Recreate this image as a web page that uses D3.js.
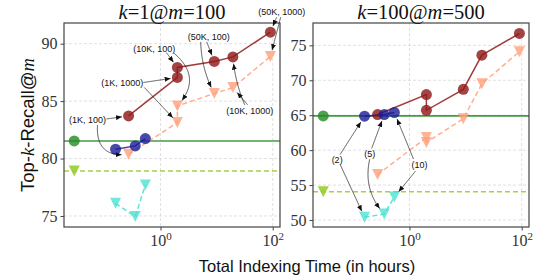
<!DOCTYPE html>
<html><head><meta charset="utf-8">
<script src="https://cdn.jsdelivr.net/npm/d3@7"></script>
<style>body{margin:0;background:#fff}</style>
</head><body><svg id="c" width="548" height="280"></svg>
<script>
// ---------------- DATA ----------------
const configLabels = ["(1K, 100)", "(1K, 1000)", "(10K, 100)", "(50K, 100)", "(10K, 1000)", "(50K, 1000)"];
const configHours  = [0.27, 2.0, 2.0, 9.1, 19.5, 91];
const probeLabels  = ["(2)", "(5)", "(10)"];
const probeHours   = [0.158, 0.355, 0.537];
const baselineHours = 0.029;

const leftOurFull    = [83.71, 87.06, 87.93, 88.45, 88.85, 91.0];
const leftOurFast    = [80.37, 83.13, 84.58, 85.66, 86.18, 88.88];
const leftProbeFull  = [80.81, 81.1, 81.74];
const leftProbeFast  = [76.1, 74.95, 77.7];
const leftBaseFull   = 81.53;
const leftBaseFast   = 78.92;

const rightOurFull   = [65.1, 67.96, 65.7, 68.7, 73.6, 76.7];
const rightOurFast   = [56.5, 61.8, 61.1, 64.5, 69.5, 74.1];
const rightProbeFull = [64.86, 65.1, 65.39];
const rightProbeFast = [50.4, 50.86, 53.3];
const rightBaseFull  = 64.9;
const rightBaseFast  = 54.05;

const xTickValues    = [1, 100];
const leftYTicks     = [75, 80, 85, 90];
const rightYTicks    = [50, 55, 60, 65, 70, 75];

// annotation label anchors (hours, value)
const leftLabelAnchors  = [[0.050, 83.36], [0.209, 86.62], [0.776, 89.58], [7.24, 90.59], [38.9, 84.15], [144.5, 92.74]];
const rightLabelAnchors = [[0.0513, 58.67], [0.195, 59.53], [1.51, 57.86]];

// ---------------- STYLE ----------------
const C = {
  red: "#8f1a1a", salmon: "#ffa07a", blue: "#1c1c96", cyan: "#40e0d0",
  green: "#228b22", ygreen: "#9acd32"
};
const serif = "'Liberation Serif', 'DejaVu Serif', serif";
const sans = "'Liberation Sans', 'DejaVu Sans', sans-serif";

const svg = d3.select("#c");
const defs = svg.append("defs");
defs.append("marker").attr("id", "ah").attr("viewBox", "0 0 6 5")
  .attr("refX", 6).attr("refY", 2.5).attr("markerWidth", 6).attr("markerHeight", 5)
  .attr("markerUnits", "userSpaceOnUse").attr("orient", "auto")
  .append("path").attr("d", "M0,0L6,2.5L0,5Z").attr("fill", "#111");

const panels = [
  { x0: 64, x1: 280, y0: 23, y1: 227, yDomain: [74.04, 91.8], yTicks: leftYTicks,
    title: ["k", "=1@", "m", "=100"],
    ourFull: leftOurFull, ourFast: leftOurFast, probeFull: leftProbeFull, probeFast: leftProbeFast,
    baseFull: leftBaseFull, baseFast: leftBaseFast,
    labels: configLabels, anchors: leftLabelAnchors,
    arrows: [
      [0, "ourFull", 0, [19, -1], 0],
      [0, "ourFast", 0, [10, 5], 0.6],
      [1, "ourFull", 1, [21, 0], 0],
      [1, "ourFast", 1, [22, 5], 0],
      [2, "ourFull", 2, [12, 4], 0],
      [2, "ourFast", 2, [20, 5], -0.52],
      [3, "ourFull", 3, [-2, 5], 0],
      [3, "ourFast", 3, [-8, 5], 0.12],
      [4, "ourFull", 4, [-5, -6], -0.08],
      [4, "ourFast", 4, [-2, -6], 0],
      [5, "ourFull", 5, [-5, 5], 0],
      [5, "ourFast", 5, [-1, 5], 0]
    ]},
  { x0: 313, x1: 529, y0: 23, y1: 227, yDomain: [49.0, 78.2], yTicks: rightYTicks,
    title: ["k", "=100@", "m", "=500"],
    ourFull: rightOurFull, ourFast: rightOurFast, probeFull: rightProbeFull, probeFast: rightProbeFast,
    baseFull: rightBaseFull, baseFast: rightBaseFast,
    labels: probeLabels, anchors: rightLabelAnchors,
    arrows: [
      [0, "probeFull", 0, [3, -5], 0],
      [0, "probeFast", 0, [3, 5], 0],
      [1, "probeFull", 1, [2, -5], 0],
      [1, "probeFast", 1, [0, 6], 0.26],
      [2, "probeFull", 2, [-6, -6], 0],
      [2, "probeFast", 2, [-4, 6], 0]
    ]}
];

function triPath(s) { const h = s / 2; return `M${-h},${-h}L${h},${-h}L0,${h}Z`; }

panels.forEach(p => {
  const x = d3.scaleLog().domain([10 ** -1.72, 10 ** 2.13]).range([p.x0, p.x1]);
  const y = d3.scaleLinear().domain(p.yDomain).range([p.y1, p.y0]);
  const g = svg.append("g");

  // grid
  g.selectAll(".gx").data(xTickValues).join("line")
    .attr("x1", d => x(d)).attr("x2", d => x(d)).attr("y1", p.y0).attr("y2", p.y1)
    .attr("stroke", "#d9d9d9").attr("stroke-width", 0.8).attr("stroke-dasharray", "3,2");
  g.selectAll(".gy").data(p.yTicks).join("line")
    .attr("x1", p.x0).attr("x2", p.x1).attr("y1", d => y(d)).attr("y2", d => y(d))
    .attr("stroke", "#d9d9d9").attr("stroke-width", 0.8).attr("stroke-dasharray", "3,2");

  // axes
  const ax = g.append("g").attr("transform", `translate(0,${p.y1})`)
    .call(d3.axisBottom(x).tickValues(xTickValues).tickSize(3.5).tickFormat(""));
  ax.select(".domain").remove();
  ax.selectAll("line").attr("stroke", "#444");
  ax.selectAll(".tick").append("text")
    .attr("y", 19).attr("fill", "#333").attr("text-anchor", "middle")
    .attr("font-family", serif).attr("font-size", 16)
    .each(function (d) {
      const t = d3.select(this);
      t.append("tspan").text("10");
      t.append("tspan").attr("dy", -6.5).attr("font-size", 11).text(Math.round(Math.log10(d)));
    });
  const ay = g.append("g").attr("transform", `translate(${p.x0},0)`)
    .call(d3.axisLeft(y).tickValues(p.yTicks).tickSize(3.5).tickPadding(3));
  ay.select(".domain").remove();
  ay.selectAll("line").attr("stroke", "#444");
  ay.selectAll("text").attr("font-family", serif).attr("font-size", 16).attr("fill", "#333");

  // baselines
  g.append("line").attr("x1", p.x0).attr("x2", p.x1).attr("y1", y(p.baseFull)).attr("y2", y(p.baseFull))
    .attr("stroke", C.green).attr("stroke-opacity", 0.85).attr("stroke-width", 1.6);
  g.append("line").attr("x1", p.x0).attr("x2", p.x1).attr("y1", y(p.baseFast)).attr("y2", y(p.baseFast))
    .attr("stroke", C.ygreen).attr("stroke-opacity", 0.9).attr("stroke-width", 1.5).attr("stroke-dasharray", "5,3");

  const line = d3.line().x(d => x(d[0])).y(d => y(d[1]));
  const series = [
    { xs: configHours, ys: p.ourFull, color: C.red, dash: null, mark: "o", op: 0.82 },
    { xs: configHours, ys: p.ourFast, color: C.salmon, dash: "5,3", mark: "v", op: 0.8 },
    { xs: probeHours, ys: p.probeFull, color: C.blue, dash: null, mark: "o", op: 0.8 },
    { xs: probeHours, ys: p.probeFast, color: C.cyan, dash: "5,3", mark: "v", op: 0.75 }
  ];
  series.forEach(s => {
    const pts = s.xs.map((v, i) => [v, s.ys[i]]);
    g.append("path").attr("d", line(pts)).attr("fill", "none")
      .attr("stroke", s.color).attr("stroke-opacity", 0.85).attr("stroke-width", 1.5)
      .attr("stroke-dasharray", s.dash);
    pts.forEach(pt => {
      if (s.mark === "o") {
        g.append("circle").attr("cx", x(pt[0])).attr("cy", y(pt[1])).attr("r", 5.5)
          .attr("fill", s.color).attr("fill-opacity", s.op);
      } else {
        g.append("path").attr("d", triPath(11))
          .attr("transform", `translate(${x(pt[0])},${y(pt[1])})`)
          .attr("fill", s.color).attr("fill-opacity", s.op);
      }
    });
  });
  // baseline markers
  g.append("circle").attr("cx", x(baselineHours)).attr("cy", y(p.baseFull)).attr("r", 5.5)
    .attr("fill", C.green).attr("fill-opacity", 0.8);
  g.append("path").attr("d", triPath(11))
    .attr("transform", `translate(${x(baselineHours)},${y(p.baseFast)})`)
    .attr("fill", C.ygreen).attr("fill-opacity", 0.9);

  // frame
  g.append("rect").attr("x", p.x0).attr("y", p.y0).attr("width", p.x1 - p.x0).attr("height", p.y1 - p.y0)
    .attr("fill", "none").attr("stroke", "#444").attr("stroke-width", 1.2);

  // annotations
  p.labels.forEach((lab, i) => {
    g.append("text").attr("x", x(p.anchors[i][0])).attr("y", y(p.anchors[i][1]) + 3.2)
      .attr("text-anchor", "middle").attr("font-family", sans).attr("font-size", 9)
      .attr("fill", "#111").text(lab);
  });
  p.arrows.forEach(a => {
    const [li, sname, pi, off, rad] = a;
    const xs = sname.startsWith("our") ? configHours : probeHours;
    const sx = x(p.anchors[li][0]) + off[0], sy = y(p.anchors[li][1]) + off[1];
    const tx = x(xs[pi]), ty = y(p[sname][pi]);
    const dx = tx - sx, dy = ty - sy;
    const cx = (sx + tx) / 2 - rad * dy, cy = (sy + ty) / 2 + rad * dx;
    const pts = [];
    for (let k = 0; k <= 80; k++) {
      const t = k / 80;
      const px = (1 - t) * (1 - t) * sx + 2 * (1 - t) * t * cx + t * t * tx;
      const py = (1 - t) * (1 - t) * sy + 2 * (1 - t) * t * cy + t * t * ty;
      if (Math.hypot(px - tx, py - ty) >= 6.5) pts.push([px, py]);
    }
    g.append("path").attr("d", d3.line()(pts)).attr("fill", "none")
      .attr("stroke", "#111").attr("stroke-width", 0.7).attr("marker-end", "url(#ah)");
  });

  // title
  const tt = svg.append("text").attr("x", (p.x0 + p.x1) / 2).attr("y", 19)
    .attr("text-anchor", "middle").attr("font-family", serif).attr("font-size", 20.5).attr("fill", "#111");
  p.title.forEach((s, i) => tt.append("tspan").attr("font-style", i % 2 === 0 ? "italic" : "normal").text(s));
});

// axis titles
svg.append("text").attr("x", 307).attr("y", 272).attr("text-anchor", "middle")
  .attr("font-family", sans).attr("font-size", 16.5).attr("fill", "#111")
  .text("Total Indexing Time (in hours)");
const yl = svg.append("text").attr("transform", "translate(34,125) rotate(-90)")
  .attr("text-anchor", "middle").attr("font-family", sans).attr("font-size", 18.5).attr("fill", "#111");
yl.append("tspan").text("Top-");
yl.append("tspan").attr("font-family", serif).attr("font-style", "italic").text("k");
yl.append("tspan").text("-Recall@");
yl.append("tspan").attr("font-family", serif).attr("font-style", "italic").text("m");
</script></body></html>
